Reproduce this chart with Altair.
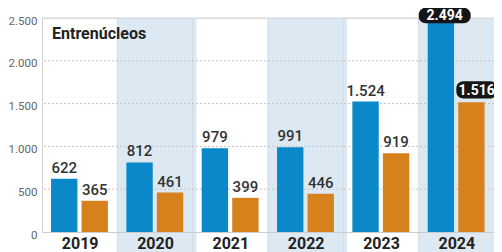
import altair as alt
import pandas as pd

years = ["2019", "2020", "2021", "2022", "2023", "2024"]
serie_azul = [622, 812, 979, 991, 1524, 2494]
serie_naranja = [365, 461, 399, 446, 919, 1516]
y_ticks = [0, 500, 1000, 1500, 2000, 2500]
grid_dotted = [500, 1000, 1500, 2000]
grid_top = [2500]
title_text = "Entrenúcleos"
highlight_year = "2024"

BLUE = "#0a88c9"
ORANGE = "#d6811c"
SHADE = "#dde9f2"
FONT = "Roboto"

def fmt(v):
    return f"{v:,}".replace(",", ".")

rows = []
for i, (yr, a, b) in enumerate(zip(years, serie_azul, serie_naranja)):
    hl = yr == highlight_year
    rows.append(dict(year=yr, serie="a", value=a, zero=0, label=fmt(a), x0=i + 0.12, x1=i + 0.47,
                     xc=i + 0.295, bx0=i + 0.0, bx1=i + 0.69, hl=hl))
    rows.append(dict(year=yr, serie="b", value=b, zero=0, label=fmt(b), x0=i + 0.525, x1=i + 0.875,
                     xc=i + 0.70, bx0=i + 0.50, bx1=i + 1.04, hl=hl))
df = pd.DataFrame(rows)

bands = pd.DataFrame([dict(x0=i, x1=i + 1.05, top=2500, bot=-260)
                      for i, yr in enumerate(years) if i % 2 == 1])
edges = pd.DataFrame(dict(x=list(range(1, len(years))), top=2500, bot=-260))

xs = alt.Scale(domain=[0, len(years)], nice=False, zero=False)
ys = alt.Scale(domain=[0, 2500], nice=False)

label_expr = "[" + ",".join(f"'{y}'" for y in years) + "][floor(datum.value)]"

shade = alt.Chart(bands).mark_rect(color=SHADE).encode(
    x=alt.X("x0:Q", scale=xs, title=None,
            axis=alt.Axis(values=[i + 0.5 for i in range(len(years))], labelExpr=label_expr,
                          ticks=False, grid=False, domainColor="#cccccc", zindex=1,
                          labelFontSize=16, labelFont=FONT, labelColor="#222222",
                          labelFontWeight="bold", labelPadding=3)),
    x2="x1:Q",
    y=alt.Y("top:Q", scale=ys, title=None,
            axis=alt.Axis(values=y_ticks, labelExpr="replace(format(datum.value, ','), ',', '.')",
                          ticks=False, grid=False, domainColor="#d0d0d0", zindex=1,
                          labelFontSize=11.5, labelFont=FONT, labelColor="#666666",
                          labelPadding=5, labelOffset=3)),
    y2="bot:Q")

edge = alt.Chart(edges).mark_rule(color="#cfdbe4", strokeWidth=1).encode(
    x=alt.X("x:Q", scale=xs, title=None),
    y=alt.Y("top:Q", scale=ys, title=None), y2="bot:Q")

g1 = alt.Chart(pd.DataFrame(dict(v=grid_dotted))).mark_rule(
    color="#c4c4c4", strokeDash=[2, 2], strokeWidth=1).encode(
    y=alt.Y("v:Q", scale=ys, title=None))
g2 = alt.Chart(pd.DataFrame(dict(v=grid_top))).mark_rule(
    color="#d4d4d4", strokeWidth=1).encode(
    y=alt.Y("v:Q", scale=ys, title=None))

bars = alt.Chart(df).mark_rect().encode(
    x=alt.X("x0:Q", scale=xs, title=None), x2="x1:Q",
    y=alt.Y("value:Q", scale=ys, title=None), y2="zero:Q",
    color=alt.Color("serie:N", scale=alt.Scale(domain=["a", "b"], range=[BLUE, ORANGE]), legend=None))

labels = alt.Chart(df).transform_filter("!datum.hl").mark_text(
    baseline="bottom", dy=-3, fontSize=15, font=FONT, color="#333333", fontWeight=500).encode(
    x=alt.X("xc:Q", scale=xs, title=None), y=alt.Y("value:Q", scale=ys, title=None), text="label:N")

hl_df = df[df.hl].copy()
hl_df["ty"] = [2494 + 35, 1516 + 135]
hl_df["ty0"] = [2494 - 55, 1516 + 45]
hl_df["ty1"] = [2494 + 125, 1516 + 245]
hl_df["tx"] = [(a + b) / 2 for a, b in zip(hl_df.bx0, hl_df.bx1)]
boxes = alt.Chart(hl_df).mark_rect(color="#151515", cornerRadius=7).encode(
    x=alt.X("bx0:Q", scale=xs, title=None), x2="bx1:Q",
    y=alt.Y("ty0:Q", scale=ys, title=None), y2="ty1:Q")
box_text = alt.Chart(hl_df).mark_text(
    fontSize=14, font=FONT, color="white", fontWeight="bold", baseline="middle").encode(
    x=alt.X("tx:Q", scale=xs, title=None), y=alt.Y("ty:Q", scale=ys, title=None), text="label:N")

title = alt.Chart(pd.DataFrame(dict(t=[title_text]))).mark_text(
    align="left", baseline="middle", fontSize=16, font=FONT, fontWeight="bold", color="#222222").encode(
    x=alt.value(10), y=alt.value(16), text="t:N")

chart = alt.layer(shade, edge, g1, g2, bars, labels, boxes, box_text, title).properties(
    width=452, height=214,
    autosize=alt.AutoSizeParams(type="none"),
    padding={"left": 34, "top": 10, "right": 0, "bottom": 20},
).configure_view(stroke=None).configure(background="white")

chart.save("out.html", embed_options={"renderer": "svg", "actions": False})
